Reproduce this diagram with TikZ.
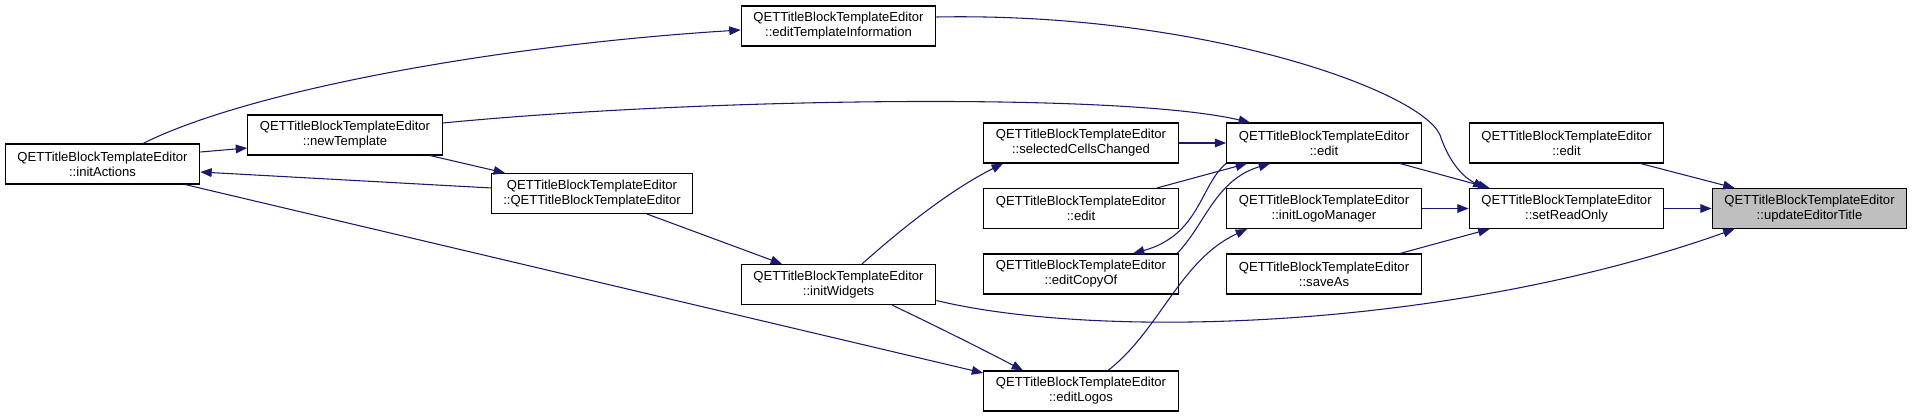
\documentclass[tikz,border=0pt]{standalone}
\usepackage{fontspec}
\setmainfont{Liberation Sans}
\usetikzlibrary{arrows.meta, positioning, calc}
\definecolor{midnight}{rgb}{0.10, 0.10, 0.44}
\definecolor{grey75}{rgb}{0.75, 0.75, 0.75}

\tikzset{
  fn/.style={draw=black, line width=0.8pt, fill=white, align=center,
    inner xsep=8.5pt, inner ysep=0pt, minimum width=146pt, minimum height=30pt,
    font=\fontsize{9.8pt}{11.3pt}\selectfont},
  call/.style={->, midnight, line width=0.8pt},
}

\begin{document}
\begin{tikzpicture}[>={Triangle[length=8.5pt, width=6.5pt]}, x=0.75pt, y=-0.75pt]
        \useasboundingbox (0,0) rectangle (1912,417);

        % Functions
        \node [fn] (initact) at (102.5,164) {QETTitleBlockTemplateEditor\\::initActions};
        \node [fn] (newtpl) at (345,135) {QETTitleBlockTemplateEditor\\::newTemplate};
        \node [fn] (edittpl) at (838.5,26) {QETTitleBlockTemplateEditor\\::editTemplateInformation};
        \node [fn] (ctor) at (592,193.5) {QETTitleBlockTemplateEditor\\::QETTitleBlockTemplateEditor};
        \node [fn] (initwid) at (838.5,284.5) {QETTitleBlockTemplateEditor\\::initWidgets};
        \node [fn] (selcells) at (1081,143) {QETTitleBlockTemplateEditor\\::selectedCellsChanged};
        \node [fn] (edita) at (1081,208.5) {QETTitleBlockTemplateEditor\\::edit};
        \node [fn] (copyof) at (1081,274) {QETTitleBlockTemplateEditor\\::editCopyOf};
        \node [fn] (logos) at (1081,391) {QETTitleBlockTemplateEditor\\::editLogos};
        \node [fn] (editb) at (1324,143) {QETTitleBlockTemplateEditor\\::edit};
        \node [fn] (logoman) at (1324,208.5) {QETTitleBlockTemplateEditor\\::initLogoManager};
        \node [fn] (saveas) at (1324,274) {QETTitleBlockTemplateEditor\\::saveAs};
        \node [fn] (editc) at (1566.5,143) {QETTitleBlockTemplateEditor\\::edit};
        \node [fn] (readonly) at (1566.5,208.5) {QETTitleBlockTemplateEditor\\::setReadOnly};
        \node [fn, fill=grey75] (title) at (1809.5,208.5) {QETTitleBlockTemplateEditor\\::updateEditorTitle};

        % Calls into updateEditorTitle
        \draw [call] (readonly) -- (title);
        \draw [call] ($(editc.south)+(74,0)$) -- ($(title.north)+(-75,0)$);
        \draw [call] ($(initwid.east)+(0,16)$) .. controls (1100,340) and (1450,330) .. ($(title.south)+(-75,0)$);

        % Calls into setReadOnly
        \draw [call] ($(editb.south)+(76,0)$) -- ($(readonly.north)+(-77,0)$);
        \draw [call] ($(edittpl.east)+(0,-9)$) .. controls (1200,12) and (1420,90) .. (1440,135)
            .. controls (1450,165) and (1465,178) .. ($(readonly.north)+(-82,0)$);
        \draw [call] (logoman) -- (readonly);
        \draw [call] ($(saveas.north)+(76,0)$) -- ($(readonly.south)+(-77,0)$);

        % Calls into edit
        \draw [call] (selcells) -- (editb);
        \draw [call] ($(newtpl.east)+(0,-12)$) .. controls (700,98) and (1120,92) .. ($(editb.north)+(-74,0)$);
        \draw [call] ($(edita.north)+(76,0)$) -- ($(editb.south)+(-77,0)$);
        \draw [call] ($(copyof.north)+(96,0)$) .. controls (1205,225) and (1215,180) .. ($(editb.south)+(-54,0)$);
        \draw [call] (editb.south west) .. controls (1200,185) and (1200,235) .. ($(copyof.north)+(52,0)$);

        % Remaining calls
        \draw [call] ($(logos.north)+(27,0)$) .. controls (1160,330) and (1180,260) .. ($(logoman.south)+(-77,0)$);
        \draw [call] ($(initwid.north)+(23.5,0)$) .. controls (900,230) and (950,190) .. ($(selcells.south)+(-78,0)$);
        \draw [call] ($(ctor.south)+(55,0)$) -- ($(initwid.north)+(-56.5,0)$);
        \draw [call] ($(initwid.south)+(53.5,0)$) .. controls (940,328) and (980,348) .. ($(logos.north)+(-58,0)$);
        \draw [call] ($(initact.south)+(82.5,0)$) -- ($(logos.west)+(0,-18)$);
        \draw [call] ($(initact.east)+(0,-12)$) -- ($(newtpl.west)+(0,13)$);
        \draw [call] ($(ctor.west)+(0,-5.5)$) -- ($(initact.east)+(0,8)$);
        \draw [call] ($(initact.north)+(40.5,0)$) .. controls (250,90) and (500,45) .. ($(edittpl.west)+(0,4)$);
        \draw [call] ($(newtpl.south)+(85,0)$) -- ($(ctor.north)+(-87,0)$);
    \end{tikzpicture}
\end{document}
